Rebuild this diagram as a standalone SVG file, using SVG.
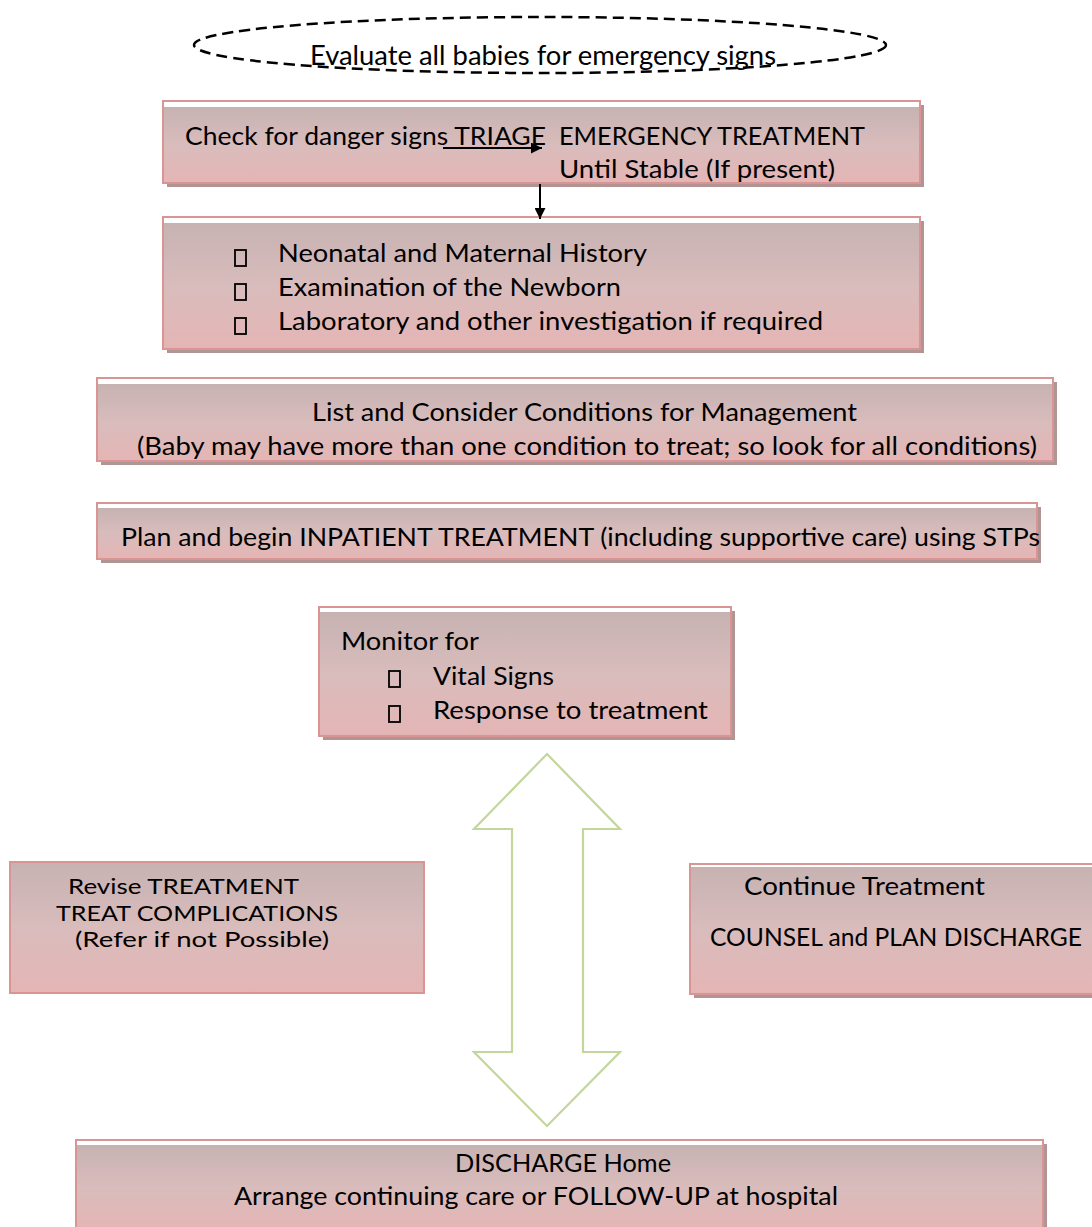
<svg xmlns="http://www.w3.org/2000/svg" width="1092" height="1227" viewBox="0 0 1092 1227">
  <defs>
    <linearGradient id="boxFill" x1="0" y1="0" x2="0" y2="1">
      <stop offset="0" stop-color="#c7b2b2"/>
      <stop offset="0.5" stop-color="#d9bcbc"/>
      <stop offset="1" stop-color="#e5b5b5"/>
    </linearGradient>
    <marker id="arrowHead" viewBox="0 0 10 10" refX="10" refY="5" markerWidth="12" markerHeight="11" markerUnits="userSpaceOnUse" orient="auto">
      <path d="M0,0 L10,5 L0,10 Z" fill="#000"/>
    </marker>
  </defs>
  <style>
    .shadow { fill: #b39494; }
    .frame { fill: #ffffff; stroke: #d99594; stroke-width: 2; }
    .fill { fill: url(#boxFill); }
    .t { font-family: Lato, "Open Sans", "Liberation Sans", sans-serif; font-size: 25px; fill: #000; }
    .s { font-size: 22px; }
    .big { font-size: 27px; }
    .tofu { fill: none; stroke: #000; stroke-width: 1.8; }
    .conn { stroke: #000; stroke-width: 2; fill: none; }
    .dbl { fill: #ffffff; stroke: #c3d69b; stroke-width: 2.2; }
  </style>
  <rect width="1092" height="1227" fill="#ffffff"/>

  <!-- start: dashed ellipse -->
  <g id="node-evaluate">
    <ellipse cx="540" cy="45" rx="346" ry="28" fill="none" stroke="#000" stroke-width="2.5" stroke-dasharray="11 6"/>
    <text class="t big" x="310" y="65" textLength="466" lengthAdjust="spacingAndGlyphs">Evaluate all babies for emergency signs</text>
  </g>

  <g id="node-triage">
    <rect class="shadow" x="167" y="105" width="757" height="82"/>
    <rect class="frame" x="163" y="101" width="757" height="82"/>
    <rect class="fill" x="164" y="107" width="755" height="75"/>
    <text class="t" x="185" y="145" textLength="361" lengthAdjust="spacingAndGlyphs">Check for danger signs TRIAGE</text>
    <text class="t" x="559" y="145" textLength="306" lengthAdjust="spacingAndGlyphs">EMERGENCY TREATMENT</text>
    <text class="t" x="559" y="178" textLength="276" lengthAdjust="spacingAndGlyphs">Until Stable (If present)</text>
  </g>

  <g id="node-history">
    <rect class="shadow" x="167" y="221" width="757" height="132"/>
    <rect class="frame" x="163" y="217" width="757" height="132"/>
    <rect class="fill" x="164" y="223" width="755" height="125"/>
    <rect class="tofu" x="235" y="250" width="11" height="16"/>
    <rect class="tofu" x="235" y="284" width="11" height="16"/>
    <rect class="tofu" x="235" y="318" width="11" height="16"/>
    <text class="t" x="278" y="262" textLength="369" lengthAdjust="spacingAndGlyphs">Neonatal and Maternal History</text>
    <text class="t" x="278" y="296" textLength="343" lengthAdjust="spacingAndGlyphs">Examination of the Newborn</text>
    <text class="t" x="278" y="330" textLength="545" lengthAdjust="spacingAndGlyphs">Laboratory and other investigation if required</text>
  </g>

  <g id="node-conditions">
    <rect class="shadow" x="101" y="382" width="956" height="83"/>
    <rect class="frame" x="97" y="378" width="956" height="83"/>
    <rect class="fill" x="98" y="384" width="954" height="76"/>
    <text class="t" x="312" y="421" textLength="545" lengthAdjust="spacingAndGlyphs">List and Consider Conditions for Management</text>
    <text class="t" x="137" y="455" textLength="900" lengthAdjust="spacingAndGlyphs">(Baby may have more than one condition to treat; so look for all conditions)</text>
  </g>

  <g id="node-inpatient">
    <rect class="shadow" x="101" y="507" width="940" height="56"/>
    <rect class="frame" x="97" y="503" width="940" height="56"/>
    <rect class="fill" x="98" y="508" width="938" height="50"/>
    <text class="t" x="121" y="546" textLength="919" lengthAdjust="spacingAndGlyphs">Plan and begin INPATIENT TREATMENT (including supportive care) using STPs</text>
  </g>

  <g id="node-monitor">
    <rect class="shadow" x="323" y="611" width="412" height="129"/>
    <rect class="frame" x="319" y="607" width="412" height="129"/>
    <rect class="fill" x="320" y="612" width="410" height="123"/>
    <text class="t" x="341" y="650" textLength="138" lengthAdjust="spacingAndGlyphs">Monitor for</text>
    <rect class="tofu" x="389" y="671" width="11" height="16"/>
    <rect class="tofu" x="389" y="706" width="11" height="16"/>
    <text class="t" x="433" y="685" textLength="121" lengthAdjust="spacingAndGlyphs">Vital Signs</text>
    <text class="t" x="433" y="719" textLength="275" lengthAdjust="spacingAndGlyphs">Response to treatment</text>
  </g>

  <g id="node-revise">
    <rect class="frame" x="10" y="862" width="414" height="131"/>
    <rect class="fill" x="11" y="863" width="412" height="129"/>
    <text class="t s" x="68" y="894" textLength="231" lengthAdjust="spacingAndGlyphs">Revise TREATMENT</text>
    <text class="t s" x="56" y="920.5" textLength="282" lengthAdjust="spacingAndGlyphs">TREAT COMPLICATIONS</text>
    <text class="t s" x="75" y="947" textLength="254" lengthAdjust="spacingAndGlyphs">(Refer if not Possible)</text>
  </g>

  <g id="node-continue">
    <rect class="shadow" x="694" y="868" width="410" height="130"/>
    <rect class="frame" x="690" y="864" width="410" height="130"/>
    <rect class="fill" x="691" y="867" width="408" height="126"/>
    <text class="t" x="744" y="895" textLength="241" lengthAdjust="spacingAndGlyphs">Continue Treatment</text>
    <text class="t" x="710" y="946" textLength="372" lengthAdjust="spacingAndGlyphs">COUNSEL and PLAN DISCHARGE</text>
  </g>

  <g id="node-discharge">
    <rect class="shadow" x="80" y="1144" width="967" height="90"/>
    <rect class="frame" x="76" y="1140" width="967" height="90"/>
    <rect class="fill" x="77" y="1145" width="965" height="84"/>
    <text class="t" x="455" y="1172" textLength="216" lengthAdjust="spacingAndGlyphs">DISCHARGE Home</text>
    <text class="t" x="234" y="1205" textLength="604" lengthAdjust="spacingAndGlyphs">Arrange continuing care or FOLLOW-UP at hospital</text>
  </g>

  <g id="connectors">
    <line class="conn" x1="443" y1="148" x2="542" y2="148" marker-end="url(#arrowHead)"/>
    <line class="conn" x1="540" y1="184" x2="540" y2="219" marker-end="url(#arrowHead)"/>
    <polygon class="dbl" points="547,754 620,829 583,829 583,1052 620,1052 547,1126 474,1052 512,1052 512,829 474,829"/>
  </g>
</svg>
